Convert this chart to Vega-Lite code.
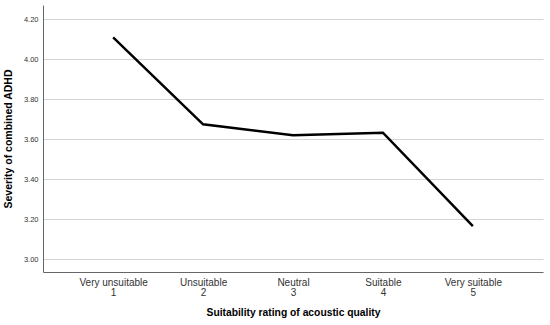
{
  "$schema": "https://vega.github.io/schema/vega-lite/v6.json",
  "width": 500,
  "height": 267,
  "autosize": {"type": "none"},
  "padding": {"left": 43, "top": 5, "right": 7, "bottom": 53},
  "background": "white",
  "config": {
    "view": {"stroke": null},
    "font": "Liberation Sans"
  },
  "data": {
    "values": [
      {"rating": "Very unsuitable|1", "severity": 4.11},
      {"rating": "Unsuitable|2", "severity": 3.675},
      {"rating": "Neutral|3", "severity": 3.62},
      {"rating": "Suitable|4", "severity": 3.633},
      {"rating": "Very suitable|5", "severity": 3.166}
    ]
  },
  "mark": {"type": "line", "color": "black", "strokeWidth": 2.5},
  "encoding": {
    "x": {
      "field": "rating",
      "type": "ordinal",
      "sort": null,
      "scale": {"type": "point", "padding": 0.78},
      "axis": {
        "title": "Suitability rating of acoustic quality",
        "titleFont": "Liberation Sans",
        "titleFontSize": 10.3,
        "titleFontWeight": "bold",
        "titleColor": "black",
        "titlePadding": 10,
        "labelExpr": "split(datum.label, '|')",
        "labelAngle": 0,
        "labelFontSize": 10,
        "labelColor": "#333",
        "labelPadding": 5,
        "labelLineHeight": 10,
        "ticks": false,
        "grid": false,
        "domainColor": "#666",
        "domainWidth": 1
      }
    },
    "y": {
      "field": "severity",
      "type": "quantitative",
      "scale": {"domain": [2.9365, 4.2715], "nice": false, "zero": false},
      "axis": {
        "title": "Severity of combined ADHD",
        "titleFont": "Liberation Sans",
        "titleFontSize": 10.5,
        "titleFontWeight": "bold",
        "titleColor": "black",
        "titlePadding": 10,
        "values": [3.0, 3.2, 3.4, 3.6, 3.8, 4.0, 4.2],
        "format": ".2f",
        "labelFontSize": 7.5,
        "labelColor": "#333",
        "labelPadding": 5,
        "ticks": false,
        "grid": true,
        "gridColor": "#d4d4d4",
        "gridWidth": 1,
        "domainColor": "#666",
        "domainWidth": 1
      }
    }
  }
}
